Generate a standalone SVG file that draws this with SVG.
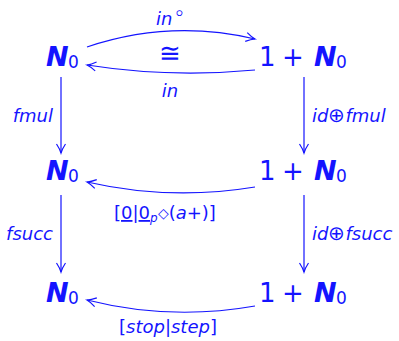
<svg xmlns="http://www.w3.org/2000/svg" width="399" height="341" viewBox="0 0 399 341">
<style>
text{fill:#1414ff;font-family:"DejaVu Sans",Verdana,sans-serif}
.n{font-size:26px}
.b{font-weight:bold;font-style:italic;font-size:27px}
.s{font-size:17px}
.l{font-size:18px;font-style:italic}
.u{font-style:normal}
.sym{font-style:normal;font-weight:200}
.c path,.c line{fill:none;stroke:#1414ff;stroke-width:1.2}
</style>
<defs>
<marker id="ah" markerWidth="14" markerHeight="12" viewBox="-12 -6 14 12" refX="0" refY="0" orient="auto" markerUnits="userSpaceOnUse">
<path d="M-9,-4.5 Q-4,-1.2 0,0 Q-4,1.2 -9,4.5" fill="none" stroke="#1414ff" stroke-width="1.2"/>
</marker>
</defs>
<g class="c" id="connectors">
<path d="M87,47 Q170,19 255,39" marker-end="url(#ah)"/>
<path d="M255,70 Q170,78 87,65" marker-end="url(#ah)"/>
<line x1="61" y1="77" x2="61" y2="153" marker-end="url(#ah)"/>
<line x1="304" y1="77" x2="304" y2="153" marker-end="url(#ah)"/>
<path d="M255,187 Q170,201 87,182" marker-end="url(#ah)"/>
<line x1="61" y1="195" x2="61" y2="272" marker-end="url(#ah)"/>
<line x1="304" y1="195" x2="304" y2="272" marker-end="url(#ah)"/>
<path d="M255,306 Q170,321 87,300" marker-end="url(#ah)"/>
</g>
<g id="n1"><text class="n" y="66"><tspan class="b" x="46">N</tspan><tspan class="s" x="68" dy="2">0</tspan></text></g>
<g id="n2"><text class="n" y="66"><tspan x="259">1</tspan><tspan x="282">+</tspan><tspan class="b" x="314">N</tspan><tspan class="s" x="336" dy="2">0</tspan></text></g>
<g id="n3"><text class="n" y="180"><tspan class="b" x="46">N</tspan><tspan class="s" x="68" dy="2">0</tspan></text></g>
<g id="n4"><text class="n" y="180"><tspan x="259">1</tspan><tspan x="282">+</tspan><tspan class="b" x="314">N</tspan><tspan class="s" x="336" dy="2">0</tspan></text></g>
<g id="n5"><text class="n" y="302"><tspan class="b" x="46">N</tspan><tspan class="s" x="68" dy="2">0</tspan></text></g>
<g id="n6"><text class="n" y="302"><tspan x="259">1</tspan><tspan x="282">+</tspan><tspan class="b" x="314">N</tspan><tspan class="s" x="336" dy="2">0</tspan></text></g>
<g id="labels">
<text class="l" x="156" y="25">in<tspan class="sym" font-size="22" dy="-5">∘</tspan></text>
<text class="sym" x="170" y="62" font-size="26" text-anchor="middle">≅</text>
<text class="l" x="170" y="97" text-anchor="middle">in</text>
<text class="l" x="53" y="122" text-anchor="end">fmul</text>
<text class="l" x="312" y="122">id<tspan class="sym" font-size="20">⊕</tspan>fmul</text>
<text class="l" x="53" y="240" text-anchor="end">fsucc</text>
<text class="l" x="312" y="240">id<tspan class="sym" font-size="20">⊕</tspan>fsucc</text>
<text class="l" x="114" y="219"><tspan class="u">[</tspan><tspan class="u" text-decoration="underline">0</tspan><tspan class="u">|</tspan><tspan class="u" text-decoration="underline">0</tspan><tspan font-size="12" dy="3">p</tspan><tspan class="sym" font-size="14" dy="-4">◇</tspan><tspan class="u" dy="1">(</tspan>a<tspan class="u">+)]</tspan></text>
<text class="l" x="119" y="333"><tspan class="u">[</tspan>stop<tspan class="u">|</tspan>step<tspan class="u">]</tspan></text>
</g>
</svg>
